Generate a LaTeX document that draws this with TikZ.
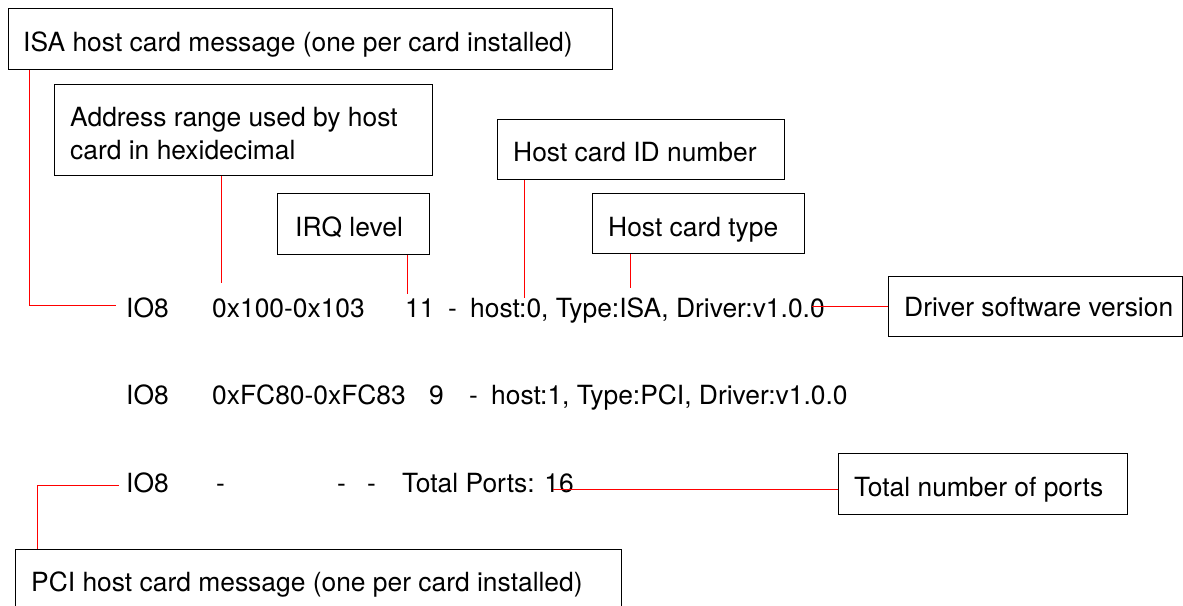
\documentclass[tikz,border=0pt]{standalone}
\usepackage{fontspec}
\setmainfont{TeX Gyre Heros}
\begin{document}
\begin{tikzpicture}[x=1pt,y=-1pt,
  box/.style={draw=black,line width=1.1pt,inner sep=0pt,anchor=north west},
  lbl/.style={anchor=base west,inner sep=0pt,font=\fontsize{26.4}{33}\selectfont},
  conn/.style={draw=red,line width=1pt}]
\useasboundingbox (0,0) rectangle (1183,605);
% boxes
\node[box,minimum width=604pt,minimum height=61pt] (isa) at (8,8) {};
\node[box,minimum width=378pt,minimum height=91pt] (addr) at (54,84) {};
\node[box,minimum width=287pt,minimum height=60pt] (hid) at (497,119) {};
\node[box,minimum width=152pt,minimum height=61pt] (irq) at (277,193) {};
\node[box,minimum width=212pt,minimum height=60pt] (htype) at (592,193) {};
\node[box,minimum width=294pt,minimum height=60pt] (drv) at (888,276) {};
\node[box,minimum width=289pt,minimum height=61pt] (tot) at (838,453) {};
\node[box,minimum width=606pt,minimum height=80pt] (pci) at (15,549) {};
% box texts
\node[lbl] (tisa) at (23,51) {ISA host card message (one per card installed)};
\node[lbl] (taddra) at (70,126) {Address range used by host};
\node[lbl] (taddrb) at (70,159) {card in hexidecimal};
\node[lbl] (thid) at (513,161) {Host card ID number};
\node[lbl] (tirq) at (295,236) {IRQ level};
\node[lbl] (thtype) at (608,236) {Host card type};
\node[lbl] (tdrv) at (904,316) {Driver software version};
\node[lbl] (ttot) at (854,496) {Total number of ports};
\node[lbl] (tpci) at (31,591) {PCI host card message (one per card installed)};
% row 1
\node[lbl] (ra1) at (126,317) {IO8};
\node[lbl] (ra2) at (212,317) {0x100-0x103};
\node[lbl] (ra3) at (405,317) {11};
\node[lbl] (ra4) at (448,317) {-};
\node[lbl] (ra5) at (470,317) {host:0, Type:ISA, Driver:v1.0.0};
% row 2
\node[lbl] (rb1) at (126,404) {IO8};
\node[lbl] (rb2) at (212,404) {0xFC80-0xFC83};
\node[lbl] (rb3) at (429,404) {9};
\node[lbl] (rb4) at (469,404) {-};
\node[lbl] (rb5) at (491,404) {host:1, Type:PCI, Driver:v1.0.0};
% row 3
\node[lbl] (rc1) at (126,492) {IO8};
\node[lbl] (rc2) at (216,492) {-};
\node[lbl] (rc3) at (337,492) {-};
\node[lbl] (rc4) at (367,492) {-};
\node[lbl] (rc5) at (402,492) {Total Ports: 16};
% connectors
\draw[conn] (isa.south west) ++(21,0) |- ++(87,235);
\draw[conn] (addr.south west) ++(167,0) -- ++(0,107);
\draw[conn] (irq.south west) ++(130,0) -- ++(0,39);
\draw[conn] (hid.south west) ++(27,0) -- ++(0,118);
\draw[conn] (htype.south west) ++(38,0) -- ++(0,34);
\draw[conn] (drv.west) -- ++(-76,0);
\draw[conn] (tot.south west) ++(0,-26) -- ++(-285,0);
\draw[conn] (pci.north west) ++(22,0) |- ++(82,-64);
\end{tikzpicture}
\end{document}
